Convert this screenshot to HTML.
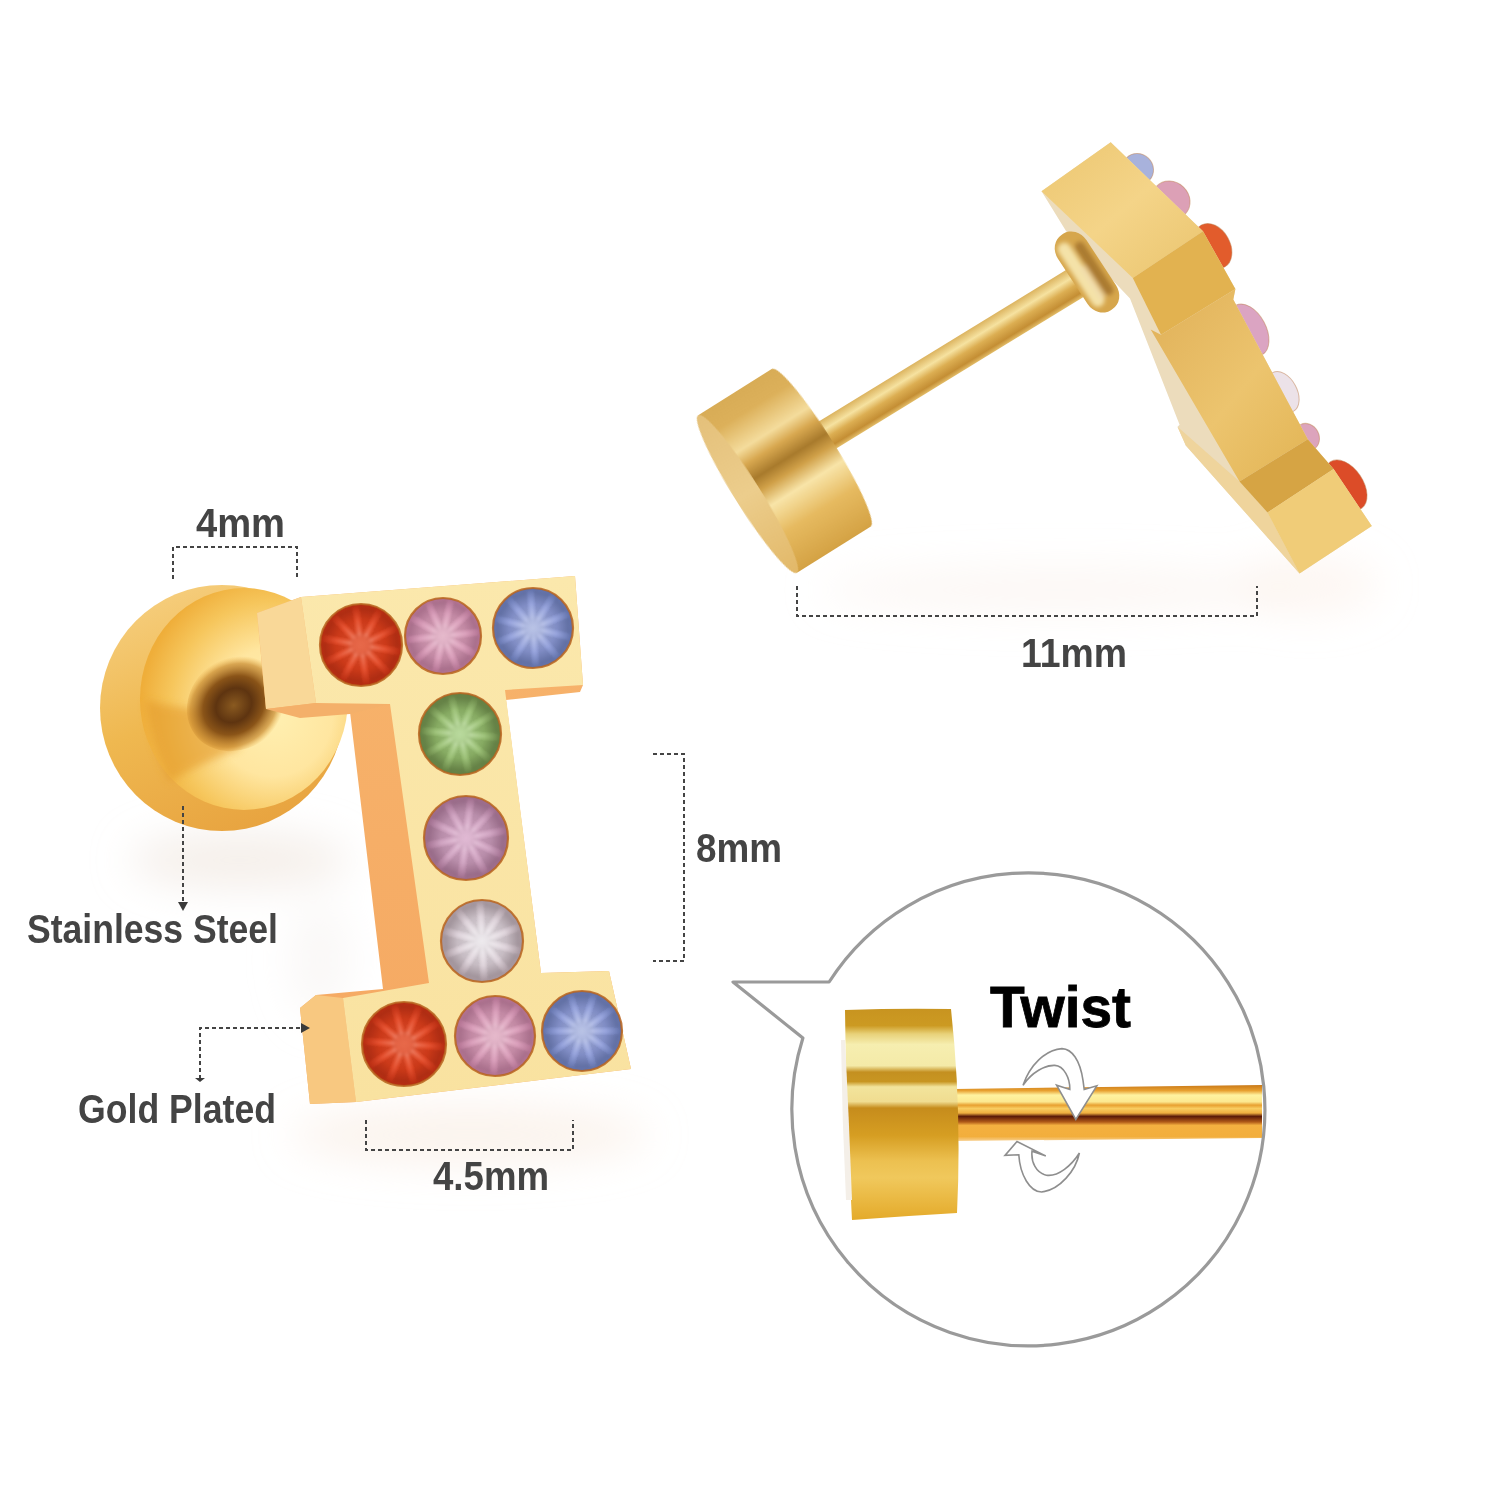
<!DOCTYPE html>
<html><head><meta charset="utf-8">
<style>
html,body{margin:0;padding:0;background:#fff;width:1500px;height:1500px;overflow:hidden}
svg{display:block}
text{font-family:"Liberation Sans",sans-serif;font-weight:bold}
</style></head><body>
<svg width="1500" height="1500" viewBox="0 0 1500 1500">
<defs>
  <linearGradient id="gStem" x1="0" y1="0" x2="1" y2="1"><stop offset="0" stop-color="#e0b058"/><stop offset="0.55" stop-color="#ecc46e"/><stop offset="1" stop-color="#e2b454"/></linearGradient>
  <linearGradient id="gTopF" x1="0" y1="0" x2="1" y2="1"><stop offset="0" stop-color="#ecc670"/><stop offset="0.5" stop-color="#f4d488"/><stop offset="1" stop-color="#eac46e"/></linearGradient>
  <linearGradient id="gCylFace" x1="0" y1="0" x2="0" y2="1"><stop offset="0" stop-color="#e4c07a"/><stop offset="0.5" stop-color="#eccd8c"/><stop offset="1" stop-color="#e2b868"/></linearGradient>
  <filter id="blur2" x="-30%" y="-30%" width="160%" height="160%"><feGaussianBlur stdDeviation="2.2"/></filter>
  <filter id="blur4" x="-30%" y="-30%" width="160%" height="160%"><feGaussianBlur stdDeviation="4"/></filter>
  <filter id="blur20" x="-50%" y="-50%" width="200%" height="200%"><feGaussianBlur stdDeviation="20"/></filter>
  <radialGradient id="gRed" cx="50%" cy="50%" r="50%"><stop offset="0" stop-color="#f45a34"/><stop offset="0.6" stop-color="#e2401c"/><stop offset="1" stop-color="#b42c12"/></radialGradient>
  <radialGradient id="gPink" cx="50%" cy="50%" r="50%"><stop offset="0" stop-color="#f2bcd2"/><stop offset="0.6" stop-color="#d898b6"/><stop offset="1" stop-color="#b07090"/></radialGradient>
  <radialGradient id="gBlue" cx="50%" cy="50%" r="50%"><stop offset="0" stop-color="#bcc8f2"/><stop offset="0.6" stop-color="#8e9cda"/><stop offset="1" stop-color="#6070a8"/></radialGradient>
  <radialGradient id="gGreen" cx="50%" cy="50%" r="50%"><stop offset="0" stop-color="#bce49a"/><stop offset="0.6" stop-color="#94bc6c"/><stop offset="1" stop-color="#627e42"/></radialGradient>
  <radialGradient id="gPink2" cx="50%" cy="50%" r="50%"><stop offset="0" stop-color="#ecbcdc"/><stop offset="0.6" stop-color="#cc9cbc"/><stop offset="1" stop-color="#9c6a8a"/></radialGradient>
  <radialGradient id="gWhite" cx="50%" cy="50%" r="50%"><stop offset="0" stop-color="#fcf8fc"/><stop offset="0.6" stop-color="#dcd0d8"/><stop offset="1" stop-color="#a4949c"/></radialGradient>
  <radialGradient id="gDiscFace" cx="64%" cy="56%" r="64%"><stop offset="0" stop-color="#fff0b2"/><stop offset="0.45" stop-color="#ffe6a0"/><stop offset="0.78" stop-color="#f6c65c"/><stop offset="1" stop-color="#efae3a"/></radialGradient>
  <linearGradient id="gDiscRim" x1="0.2" y1="0" x2="0.6" y2="1"><stop offset="0" stop-color="#f6cf80"/><stop offset="0.5" stop-color="#efb850"/><stop offset="1" stop-color="#e8a440"/></linearGradient>
  <radialGradient id="gPost" cx="45%" cy="50%" r="50%"><stop offset="0" stop-color="#8a5a20"/><stop offset="0.35" stop-color="#5e3410"/><stop offset="0.6" stop-color="#8a5418"/><stop offset="0.85" stop-color="#c88a30" stop-opacity="0.7"/><stop offset="1" stop-color="#e8a840" stop-opacity="0"/></radialGradient>
  <linearGradient id="gIFront" x1="0" y1="0" x2="0" y2="1"><stop offset="0" stop-color="#fbe8ac"/><stop offset="1" stop-color="#f9e2a0"/></linearGradient>
  <linearGradient id="gISide" x1="0" y1="0" x2="0" y2="1"><stop offset="0" stop-color="#f7b46c"/><stop offset="1" stop-color="#f5a862"/></linearGradient>
  <linearGradient id="gCyl" x1="0" y1="0" x2="0" y2="1"><stop offset="0" stop-color="#d8ac56"/><stop offset="0.12" stop-color="#dcb05a"/><stop offset="0.28" stop-color="#f4dc9c"/><stop offset="0.36" stop-color="#d8a850"/><stop offset="0.45" stop-color="#a87a2c"/><stop offset="0.52" stop-color="#d0a048"/><stop offset="0.62" stop-color="#f8e4a8"/><stop offset="0.78" stop-color="#e6ba60"/><stop offset="1" stop-color="#d4a244"/></linearGradient>
  <linearGradient id="gRod" x1="0" y1="0" x2="0" y2="1"><stop offset="0" stop-color="#dcb460"/><stop offset="0.3" stop-color="#f6e2a0"/><stop offset="0.55" stop-color="#dcae52"/><stop offset="0.85" stop-color="#c48e34"/><stop offset="1" stop-color="#e2bc68"/></linearGradient>
  <linearGradient id="gTDisc" x1="0" y1="0" x2="0" y2="1"><stop offset="0" stop-color="#c89420"/><stop offset="0.08" stop-color="#cc9a22"/><stop offset="0.12" stop-color="#e8d27a"/><stop offset="0.17" stop-color="#f6eeb0"/><stop offset="0.27" stop-color="#f4eaa8"/><stop offset="0.3" stop-color="#c49020"/><stop offset="0.345" stop-color="#c89622"/><stop offset="0.37" stop-color="#f2e49c"/><stop offset="0.44" stop-color="#f0dc90"/><stop offset="0.47" stop-color="#c68c1c"/><stop offset="0.6" stop-color="#d69e22"/><stop offset="0.72" stop-color="#ecc050"/><stop offset="0.8" stop-color="#f0c85c"/><stop offset="1" stop-color="#e4aa2a"/></linearGradient>
  <linearGradient id="gTRod" x1="0" y1="0" x2="0" y2="1"><stop offset="0" stop-color="#c87818"/><stop offset="0.1" stop-color="#e8a030"/><stop offset="0.18" stop-color="#fff2a0"/><stop offset="0.3" stop-color="#fce890"/><stop offset="0.36" stop-color="#e8a030"/><stop offset="0.42" stop-color="#f8cc60"/><stop offset="0.5" stop-color="#f0b040"/><stop offset="0.56" stop-color="#5a1a08"/><stop offset="0.66" stop-color="#b05a18"/><stop offset="0.72" stop-color="#f4b040"/><stop offset="0.92" stop-color="#f2ae3c"/><stop offset="1" stop-color="#f8d090"/></linearGradient>
<filter id="blur1" x="-20%" y="-20%" width="140%" height="140%"><feGaussianBlur stdDeviation="0.035"/></filter><symbol id="facets" viewBox="-1 -1 2 2"><g filter="url(#blur1)"><polygon points="0.000,0.000 0.946,0.089 0.818,0.484" fill="#000" opacity="0.1"/><polygon points="0.000,0.000 0.713,0.628 0.377,0.872" fill="#000" opacity="0.1"/><polygon points="0.000,0.000 0.207,0.927 -0.207,0.927" fill="#000" opacity="0.1"/><polygon points="0.000,0.000 -0.377,0.872 -0.713,0.628" fill="#000" opacity="0.1"/><polygon points="0.000,0.000 -0.818,0.484 -0.946,0.089" fill="#000" opacity="0.1"/><polygon points="0.000,0.000 -0.946,-0.089 -0.818,-0.484" fill="#000" opacity="0.1"/><polygon points="0.000,0.000 -0.713,-0.628 -0.377,-0.872" fill="#000" opacity="0.1"/><polygon points="0.000,0.000 -0.207,-0.927 0.207,-0.927" fill="#000" opacity="0.1"/><polygon points="0.000,0.000 0.377,-0.872 0.713,-0.628" fill="#000" opacity="0.1"/><polygon points="0.000,0.000 0.818,-0.484 0.946,-0.089" fill="#000" opacity="0.1"/><polygon points="0.248,-0.028 0.920,0.000 0.248,0.028" fill="#fff" opacity="0.3"/><polygon points="0.218,0.123 0.744,0.541 0.184,0.169" fill="#fff" opacity="0.3"/><polygon points="0.104,0.228 0.284,0.875 0.050,0.245" fill="#fff" opacity="0.3"/><polygon points="-0.050,0.245 -0.284,0.875 -0.104,0.228" fill="#fff" opacity="0.3"/><polygon points="-0.184,0.169 -0.744,0.541 -0.218,0.123" fill="#fff" opacity="0.3"/><polygon points="-0.248,0.028 -0.920,0.000 -0.248,-0.028" fill="#fff" opacity="0.3"/><polygon points="-0.218,-0.123 -0.744,-0.541 -0.184,-0.169" fill="#fff" opacity="0.3"/><polygon points="-0.104,-0.228 -0.284,-0.875 -0.050,-0.245" fill="#fff" opacity="0.3"/><polygon points="0.050,-0.245 0.284,-0.875 0.104,-0.228" fill="#fff" opacity="0.3"/><polygon points="0.184,-0.169 0.744,-0.541 0.218,-0.123" fill="#fff" opacity="0.3"/><polygon points="0.287,0.089 0.140,0.265 -0.089,0.287 -0.265,0.140 -0.287,-0.089 -0.140,-0.265 0.089,-0.287 0.265,-0.140" fill="#fff" opacity="0.12"/></g></symbol>
</defs>
<rect width="1500" height="1500" fill="#fff"/>
<g filter="url(#blur20)">
  <ellipse cx="470" cy="1135" rx="180" ry="30" fill="#f6e4d8" opacity="0.45"/>
  <ellipse cx="1060" cy="590" rx="240" ry="22" fill="#f8ece4" opacity="0.4"/>
  <ellipse cx="1310" cy="585" rx="70" ry="30" fill="#f8e8dc" opacity="0.35"/>
  <ellipse cx="240" cy="860" rx="110" ry="28" fill="#ece2d8" opacity="0.55"/>
  <ellipse cx="320" cy="960" rx="30" ry="60" fill="#f0ece8" opacity="0.35"/>
</g>

<!-- ===== LEFT EARRING ===== -->
<g id="left">
  <!-- back disc -->
  <ellipse cx="222" cy="708" rx="122" ry="123" fill="url(#gDiscRim)"/>
  <ellipse cx="244" cy="699" rx="104" ry="111" fill="url(#gDiscFace)"/>
  <path d="M146,700 C175,708 205,712 232,706 L240,748 C210,760 185,772 170,782 C158,760 148,730 146,700 Z" fill="#e39a2a" opacity="0.6" filter="url(#blur4)"/>
  <ellipse cx="238" cy="702" rx="54" ry="46" transform="rotate(-38 238 702)" fill="url(#gPost)"/>
  <!-- I silhouette (side faces) -->
  <polygon points="257,613 301,597 575,576 583,685 580,692 506,700 541,973 609,971 631,1069 356,1102 310,1104 300,1008 316,995 383,989 350,712 266,709" fill="url(#gISide)"/>
  <polygon points="257,613 301,597 316,703 266,709" fill="#f9d898"/>
  <polygon points="266,709 316,703 390,704 350,714 300,718" fill="#f4b06a"/>
  <polygon points="300,1008 316,995 343,998 356,1102 310,1104" fill="#f8c880"/>
  <!-- I front face -->
  <polygon points="301,597 575,576 583,685 505,690 541,973 609,971 631,1069 356,1102 343,998 429,983 390,704 316,703" fill="url(#gIFront)"/>
  <!-- gems -->
  <circle cx="361" cy="645" r="41" fill="url(#gRed)"/>
  <use href="#facets" x="320" y="604" width="82" height="82" transform="rotate(10 361 645)"/>
  <circle cx="361" cy="645" r="41" fill="none" stroke="#b8641e" stroke-width="2.2" opacity="0.85"/>
  <circle cx="443" cy="636" r="38" fill="url(#gPink)"/>
  <use href="#facets" x="405" y="598" width="76" height="76" transform="rotate(30 443 636)"/>
  <circle cx="443" cy="636" r="38" fill="none" stroke="#b8641e" stroke-width="2.2" opacity="0.85"/>
  <circle cx="533" cy="628" r="40" fill="url(#gBlue)"/>
  <use href="#facets" x="493" y="588" width="80" height="80" transform="rotate(50 533 628)"/>
  <circle cx="533" cy="628" r="40" fill="none" stroke="#b8641e" stroke-width="2.2" opacity="0.85"/>
  <circle cx="460" cy="734" r="41" fill="url(#gGreen)"/>
  <use href="#facets" x="419" y="693" width="82" height="82" transform="rotate(5 460 734)"/>
  <circle cx="460" cy="734" r="41" fill="none" stroke="#b8641e" stroke-width="2.2" opacity="0.85"/>
  <circle cx="466" cy="838" r="42" fill="url(#gPink2)"/>
  <use href="#facets" x="424" y="796" width="84" height="84" transform="rotate(25 466 838)"/>
  <circle cx="466" cy="838" r="42" fill="none" stroke="#b8641e" stroke-width="2.2" opacity="0.85"/>
  <circle cx="482" cy="941" r="41" fill="url(#gWhite)"/>
  <use href="#facets" x="441" y="900" width="82" height="82" transform="rotate(15 482 941)"/>
  <circle cx="482" cy="941" r="41" fill="none" stroke="#b8641e" stroke-width="2.2" opacity="0.85"/>
  <circle cx="404" cy="1044" r="42" fill="url(#gRed)"/>
  <use href="#facets" x="362" y="1002" width="84" height="84" transform="rotate(40 404 1044)"/>
  <circle cx="404" cy="1044" r="42" fill="none" stroke="#b8641e" stroke-width="2.2" opacity="0.85"/>
  <circle cx="495" cy="1036" r="40" fill="url(#gPink)"/>
  <use href="#facets" x="455" y="996" width="80" height="80" transform="rotate(20 495 1036)"/>
  <circle cx="495" cy="1036" r="40" fill="none" stroke="#b8641e" stroke-width="2.2" opacity="0.85"/>
  <circle cx="582" cy="1031" r="40" fill="url(#gBlue)"/>
  <use href="#facets" x="542" y="991" width="80" height="80" transform="rotate(0 582 1031)"/>
  <circle cx="582" cy="1031" r="40" fill="none" stroke="#b8641e" stroke-width="2.2" opacity="0.85"/>
  
</g>

<!-- ===== RIGHT EARRING ===== -->
<g id="right">
  <!-- rod -->
  <g transform="translate(821,439) rotate(-31.5)">
    <rect x="0" y="-16" width="300" height="32" fill="url(#gRod)"/>
  </g>
  <!-- cylinder -->
  <g transform="translate(747.5,494) rotate(-32.1)">
    <rect x="0" y="-93" width="87" height="186" fill="url(#gCyl)"/>
    <ellipse cx="87" cy="0" rx="13" ry="93" fill="url(#gCyl)"/>
    <ellipse cx="0" cy="0" rx="13" ry="93" fill="url(#gCylFace)"/>
  </g>
  <!-- I side view -->
  <!-- gems protruding -->
  <g stroke="#c08050" stroke-width="1" stroke-opacity="0.5">
    <ellipse cx="1138" cy="169" rx="16" ry="15" transform="rotate(43.9 1138 169)" fill="#a8b2dc"/>
    <ellipse cx="1171" cy="200" rx="20" ry="18" transform="rotate(43.9 1171 200)" fill="#dca0b6"/>
    <ellipse cx="1213" cy="246" rx="24" ry="17" transform="rotate(60.7 1213 246)" fill="#e25c2c"/>
    <ellipse cx="1249" cy="330" rx="28" ry="17" transform="rotate(61.9 1249 330)" fill="#dba4c2"/>
    <ellipse cx="1283" cy="392" rx="22" ry="14" transform="rotate(61.9 1283 392)" fill="#ece2e8"/>
    <ellipse cx="1307" cy="437" rx="14" ry="12" transform="rotate(61.9 1307 437)" fill="#dca4bc"/>
    <ellipse cx="1346" cy="485" rx="28" ry="17" transform="rotate(56.1 1346 485)" fill="#dc4c28"/>
  </g>
  <polygon points="1041.5,191.3 1110.7,142.3 1203,231.2 1235.4,289 1233.3,299.6 1307.8,439.2 1333.6,469.1 1371.8,526 1299.5,573.5 1185.8,445.4 1177.5,426.8 1179.6,424.7 1130,298.6 1066,231" fill="#ecdcbc"/>
  <polygon points="1177.5,426.8 1239.5,481.5 1267.5,512.5 1299.5,573.5 1185.8,445.4" fill="#efd49c"/>
  <polygon points="1041.5,191.3 1110.7,142.3 1203,231.2 1132.8,278.1" fill="url(#gTopF)"/>
  <polygon points="1132.8,278.1 1203,231.2 1235.4,289 1161,334.8" fill="#e2b250"/>
  <polygon points="1150.7,329.6 1161,334.8 1235.4,289 1233.3,299.6 1307.8,439.2 1239.5,481.5" fill="url(#gStem)"/>
  <polygon points="1239.5,481.5 1307.8,439.2 1333.6,469.1 1267.5,512.5" fill="#d6a444"/>
  <polygon points="1267.5,512.5 1333.6,469.1 1371.8,526 1299.5,573.5" fill="#f0cc78"/>
  <!-- nut -->
  <g transform="translate(1087,272) rotate(-33.3)">
    <rect x="-17" y="-45" width="34" height="90" rx="16" ry="18" fill="#d6a64c"/>
    <g filter="url(#blur2)">
      <rect x="-13" y="-38" width="13" height="74" rx="6" fill="#f4e2a8"/>
      <rect x="3" y="-30" width="10" height="62" rx="5" fill="#9c6c28" opacity="0.75"/>
      <rect x="-4" y="-8" width="6" height="40" rx="3" fill="#f0dcb0" opacity="0.7"/>
    </g>
  </g>
</g>

<!-- ===== TWIST BUBBLE ===== -->
<g id="bubble">
  <path d="M829.1,982 A236.5,236.5 0 1,1 802.9,1038.0 L733,982 Z" fill="#fff"/>
  <path d="M955,1089 L1262,1085 L1262,1138 L955,1141 Z" fill="url(#gTRod)"/>
  <path d="M845,1010 Q900,1008 951,1009 Q962,1110 957,1213 Q905,1216 852,1220 Q846,1115 845,1010 Z" fill="url(#gTDisc)"/>
  <path d="M845,1040 Q849,1120 852,1200 L846,1200 Q842,1120 841,1040 Z" fill="#f4efe8"/>
  <path d="M1023,1085.2 C1030,1065 1045,1050 1062,1048.6 C1072,1049 1080,1060 1083,1080.4 L1084.2,1089.4 L1096.8,1085.8 L1075.8,1119.4 L1056.6,1085.2 L1069.8,1089.4 C1070,1078 1064,1066 1054.8,1065.4 C1045,1065 1032,1072 1023,1085.2 Z" fill="#fff" stroke="#8e8e8e" stroke-width="1.6" stroke-linejoin="miter"/>
  <path d="M1079.4,1153 C1076,1170 1060,1190 1041.6,1192 C1030,1192 1020,1175 1018.8,1154.8 L1005,1155.4 L1017,1141.6 L1045.8,1156 L1032,1151.2 C1031,1162 1036,1173 1046.4,1175.2 C1058,1177 1072,1165 1079.4,1153 Z" fill="#fff" stroke="#8e8e8e" stroke-width="1.6" stroke-linejoin="miter"/>
  <text x="990" y="1027" font-size="57" fill="#000" stroke="#000" stroke-width="0.8" textLength="141" lengthAdjust="spacingAndGlyphs">Twist</text>
  <path d="M829.1,982 A236.5,236.5 0 1,1 802.9,1038.0 L733,982 Z" fill="none" stroke="#9a9a9a" stroke-width="3.2" stroke-linejoin="round"/>
</g>

<!-- ===== ANNOTATIONS ===== -->
<g fill="none" stroke="#444" stroke-width="2" stroke-dasharray="4,3">
  <polyline points="173,579 173,547 297,547 297,579"/>
  <polyline points="653,754 684,754 684,961 653,961"/>
  <polyline points="366,1120 366,1150 573,1150 573,1120"/>
  <polyline points="797,586 797,616 1257,616 1257,586"/>
  <polyline points="183,806 183,903"/>
  <polyline points="200,1079 200,1028 302,1028"/>
</g>
<g fill="#3a3a3a">
  <polygon points="178,902 188,902 183,911"/>
  <polygon points="301,1023 301,1033 310,1028"/>
  <polygon points="195,1078 205,1078 200,1082"/>
</g>
<g fill="#444">
  <text x="196" y="537" font-size="40" textLength="89" lengthAdjust="spacingAndGlyphs">4mm</text>
  <text x="27" y="943" font-size="40" textLength="251" lengthAdjust="spacingAndGlyphs">Stainless Steel</text>
  <text x="78" y="1123" font-size="40" textLength="198" lengthAdjust="spacingAndGlyphs">Gold Plated</text>
  <text x="696" y="862" font-size="40" textLength="86" lengthAdjust="spacingAndGlyphs">8mm</text>
  <text x="433" y="1190" font-size="40" textLength="116" lengthAdjust="spacingAndGlyphs">4.5mm</text>
  <text x="1021" y="667" font-size="40" textLength="106" lengthAdjust="spacingAndGlyphs">11mm</text>
</g>
</svg>
</body></html>
